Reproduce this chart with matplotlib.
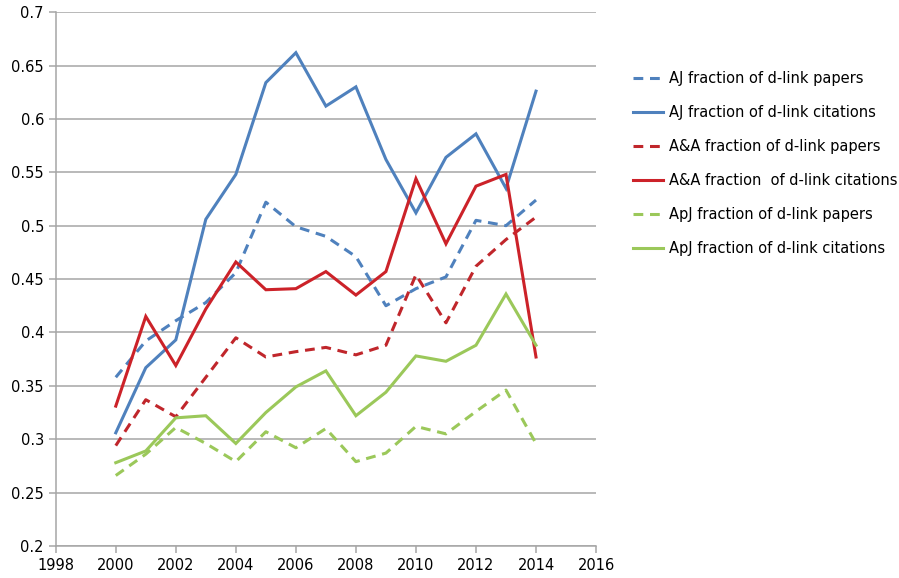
import matplotlib
matplotlib.use("Agg")
import matplotlib.pyplot as plt

years = [2000, 2001, 2002, 2003, 2004, 2005, 2006, 2007, 2008, 2009, 2010, 2011, 2012, 2013, 2014]

aj_papers = [0.358, 0.392, 0.411, 0.428, 0.456, 0.522, 0.499, 0.490, 0.471, 0.425, 0.441, 0.452, 0.505, 0.500, 0.524]
aj_citations = [0.306, 0.367, 0.393, 0.506, 0.548, 0.634, 0.662, 0.612, 0.630, 0.562, 0.512, 0.564, 0.586, 0.535, 0.626]
aa_papers = [0.294, 0.337, 0.321, 0.358, 0.395, 0.377, 0.382, 0.386, 0.379, 0.388, 0.454, 0.409, 0.462, 0.487, 0.508]
aa_citations = [0.331, 0.415, 0.369, 0.422, 0.466, 0.440, 0.441, 0.457, 0.435, 0.457, 0.544, 0.483, 0.537, 0.548, 0.377]
apj_papers = [0.266, 0.286, 0.311, 0.296, 0.279, 0.307, 0.292, 0.310, 0.279, 0.287, 0.312, 0.305, 0.326, 0.346, 0.296]
apj_citations = [0.278, 0.289, 0.320, 0.322, 0.296, 0.325, 0.349, 0.364, 0.322, 0.344, 0.378, 0.373, 0.388, 0.436, 0.388]

labels = [
    "AJ fraction of d-link papers",
    "AJ fraction of d-link citations",
    "A&A fraction of d-link papers",
    "A&A fraction  of d-link citations",
    "ApJ fraction of d-link papers",
    "ApJ fraction of d-link citations",
]
x_ticks = [1998, 2000, 2002, 2004, 2006, 2008, 2010, 2012, 2014, 2016]
y_ticks = [0.2, 0.25, 0.3, 0.35, 0.4, 0.45, 0.5, 0.55, 0.6, 0.65, 0.7]
y_ticklabels = ["0.2", "0.25", "0.3", "0.35", "0.4", "0.45", "0.5", "0.55", "0.6", "0.65", "0.7"]

blue = "#4F81BD"
red = "#CC2229"
green = "#9BC85A"

fig = plt.figure(figsize=(8.99, 5.78), dpi=100)
ax = fig.add_axes([0.062, 0.0554, 0.601, 0.9236])

series = [
    (aj_papers, blue, (0, (3.2, 2.2))),
    (aj_citations, blue, "-"),
    (aa_papers, "#C0262B", (0, (3.2, 2.2))),
    (aa_citations, red, "-"),
    (apj_papers, green, (0, (3.2, 2.2))),
    (apj_citations, green, "-"),
]
handles = []
for vals, col, ls, in series:
    h, = ax.plot(years, vals, color=col, linestyle=ls, linewidth=2.2, solid_joinstyle="miter")
    handles.append(h)

ax.set_xlim(1998, 2016)
ax.set_ylim(0.2, 0.7)
ax.set_xticks(x_ticks)
ax.set_xticklabels([str(t) for t in x_ticks])
ax.set_yticks(y_ticks)
ax.set_yticklabels(y_ticklabels)
ax.yaxis.grid(True, color="#A6A6A6", linewidth=1.1)
ax.set_axisbelow(True)
for s in ["top", "right"]:
    ax.spines[s].set_visible(False)
for s in ["left", "bottom"]:
    ax.spines[s].set_color("#A6A6A6")
    ax.spines[s].set_linewidth(1.1)
ax.tick_params(axis="both", colors="#A6A6A6", length=5, width=1.1, labelcolor="black", labelsize=10.5)
ax.tick_params(axis="x", pad=4)

fig.legend(handles, labels, loc="upper left", bbox_to_anchor=(0.689, 0.9),
           frameon=False, fontsize=10.5, handlelength=2.1, handletextpad=0.4,
           labelspacing=1.3)

fig.savefig("out.png", dpi=100)
